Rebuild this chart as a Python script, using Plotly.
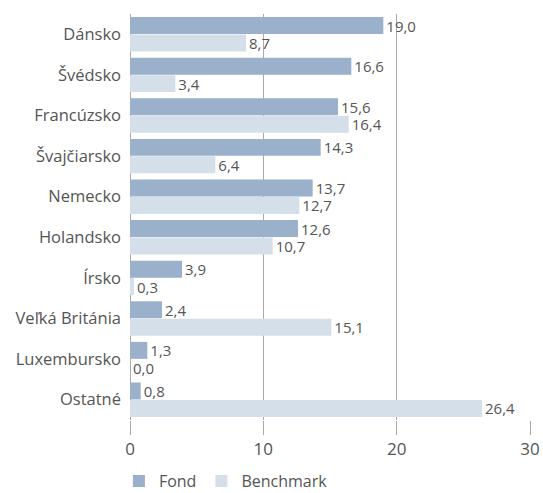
import plotly.graph_objects as go

categories = ["Dánsko", "Švédsko", "Francúzsko", "Švajčiarsko", "Nemecko",
              "Holandsko", "Írsko", "Veľká Británia", "Luxembursko", "Ostatné"]
fond = [19.0, 16.6, 15.6, 14.3, 13.7, 12.6, 3.9, 2.4, 1.3, 0.8]
benchmark = [8.7, 3.4, 16.4, 6.4, 12.7, 10.7, 0.3, 15.1, 0.0, 26.4]
x_ticks = [0, 10, 20, 30]

text_color = "#555555"
font_family = "Open Sans, sans-serif"

fig = go.Figure()
fig.add_trace(go.Bar(
    y=categories, x=fond, name="Fond", orientation="h",
    marker=dict(color="#9AB0CB", line=dict(width=0)),
    texttemplate="%{x:.1f}", textposition="outside", constraintext="none",
    textfont=dict(color=text_color, size=15, family=font_family),
    cliponaxis=False,
))
fig.add_trace(go.Bar(
    y=categories, x=benchmark, name="Benchmark", orientation="h",
    marker=dict(color="#D5DFEA", line=dict(width=0)),
    texttemplate="%{x:.1f}", textposition="outside", constraintext="none",
    textfont=dict(color=text_color, size=15, family=font_family),
    cliponaxis=False,
))

fig.update_layout(
    width=543, height=493,
    margin=dict(l=130, r=13, t=14, b=73),
    barmode="group", bargap=0.14, bargroupgap=0.03,
    separators=", ",
    paper_bgcolor="white", plot_bgcolor="white",
    font=dict(family=font_family, color=text_color),
    showlegend=True,
    legend=dict(orientation="h", x=0.219, xref="container", xanchor="left",
                yref="container", y=0.024, yanchor="middle",
                font=dict(size=16, color=text_color, family=font_family),
                itemwidth=30, tracegroupgap=0),
    xaxis=dict(range=[0, 30], tickvals=x_ticks, showgrid=True, gridcolor="#AAAAAA",
               gridwidth=1, zeroline=True, zerolinecolor="#AAAAAA", zerolinewidth=1,
               ticks="outside", ticklen=14, tickcolor="#AAAAAA", automargin=False,
               tickfont=dict(size=17, color=text_color), showline=False),
    yaxis=dict(autorange="reversed", showgrid=False, ticks="", ticklabelstandoff=8,
               automargin=False, tickfont=dict(size=16.5, color=text_color)),
)

fig.write_html("out.html", config={"displayModeBar": False},
               post_script="document.body.style.margin='0';")
